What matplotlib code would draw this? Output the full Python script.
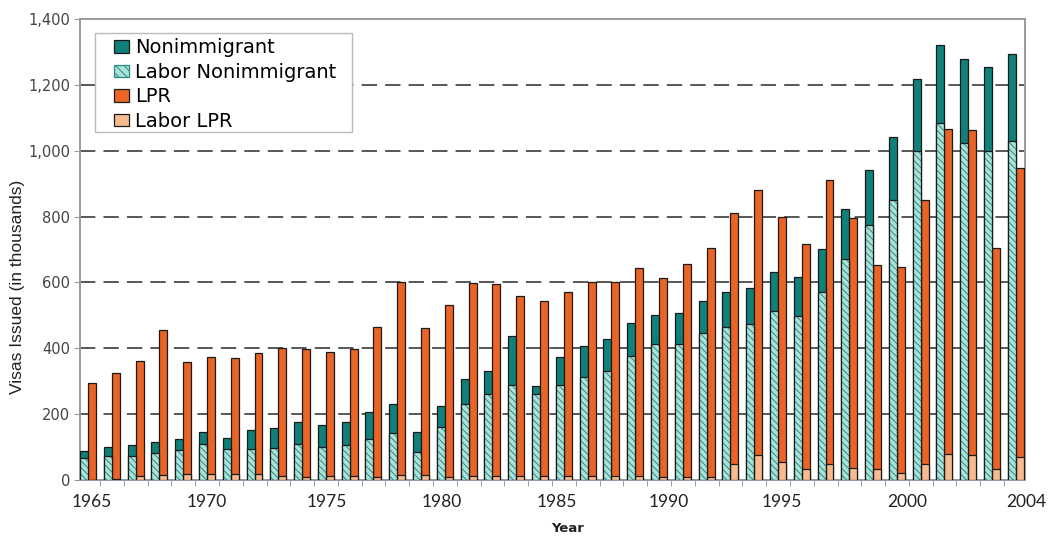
import matplotlib
matplotlib.use("Agg")
import matplotlib.pyplot as plt
from matplotlib.patches import Patch, Rectangle
from matplotlib.transforms import blended_transform_factory

# ---------------- data (thousands of visas) ----------------
years = list(range(1965, 2005))
nonimmigrant = [89, 99, 106, 116, 124, 147, 128, 152, 159, 175,
                167, 175, 205, 231, 147, 226, 306, 331, 438, 285,
                373, 407, 427, 476, 501, 506, 544, 572, 582, 631,
                616, 701, 822, 940, 1041, 1218, 1321, 1280, 1255, 1293]
labor_nonimmigrant = [66, 74, 74, 83, 91, 108, 93, 94, 98, 108,
                      101, 106, 124, 142, 86, 160, 231, 260, 288, 260,
                      288, 312, 332, 377, 413, 413, 445, 465, 474, 514,
                      498, 571, 671, 774, 850, 1000, 1084, 1024, 1000, 1030]
lpr = [296, 325, 362, 455, 358, 373, 370, 386, 400, 397,
       388, 398, 464, 601, 461, 531, 597, 595, 560, 545,
       570, 602, 602, 643, 612, 656, 704, 812, 880, 800,
       716, 911, 796, 653, 647, 850, 1066, 1063, 705, 947]
labor_lpr = [1, 3, 13, 15, 17, 17, 18, 18, 11, 10,
             12, 12, 10, 15, 15, 8, 12, 12, 12, 12,
             12, 12, 12, 12, 10, 10, 8, 48, 76, 56,
             34, 48, 36, 32, 21, 48, 79, 75, 32, 70]
labeled_years = [1965, 1970, 1975, 1980, 1985, 1990, 1995, 2000, 2004]
y_ticks = [0, 200, 400, 600, 800, 1000, 1200, 1400]
legend_labels = ["Nonimmigrant", "Labor Nonimmigrant", "LPR", "Labor LPR"]

# ---------------- style ----------------
TEAL = "#10807b"
HATCH_BG = "#a9e2d8"
HATCH_FG = "#2d8a83"
ORANGE = "#ea6426"
PEACH = "#f7bb8f"
EDGE = "#1a1a1a"
plt.rcParams["hatch.linewidth"] = 0.7

FW, FH = 1051, 537
fig = plt.figure(figsize=(FW / 100, FH / 100), dpi=100)
ax = fig.add_axes([80 / FW, 1 - 480 / FH, 945 / FW, 461 / FH])

W = 0.335
x = list(range(len(years)))
x_orange = [i + W for i in x]

# nonimmigrant total
ax.bar(x, nonimmigrant, width=W, align="edge", color=TEAL, edgecolor=EDGE,
       linewidth=0.9, zorder=3)
# labor nonimmigrant: hatched fill then outline
ax.bar(x, labor_nonimmigrant, width=W, align="edge", facecolor=HATCH_BG,
       edgecolor=HATCH_FG, hatch="\\" * 5, linewidth=0, zorder=4)
ax.bar(x, labor_nonimmigrant, width=W, align="edge", facecolor="none",
       edgecolor=EDGE, linewidth=0.9, zorder=5)
# LPR total
ax.bar(x_orange, lpr, width=W, align="edge", color=ORANGE, edgecolor=EDGE,
       linewidth=0.9, zorder=3)
ax.bar(x_orange, labor_lpr, width=W, align="edge", color=PEACH, edgecolor=EDGE,
       linewidth=0.9, zorder=4)

ax.set_xlim(0, 39.72)
ax.set_ylim(0, 1400)

# gridlines
for v in y_ticks[1:-1]:
    ax.axhline(v, color="#4a4a4a", lw=1.3, linestyle=(0, (8.5, 4.5)), zorder=1)

# spines
for s in ["top", "right", "left"]:
    ax.spines[s].set_color("#9a9a9a")
    ax.spines[s].set_linewidth(1.4)
ax.spines["bottom"].set_color("#8f9aa5")
ax.spines["bottom"].set_linewidth(1.4)

# y axis
ax.set_yticks(y_ticks)
ax.set_yticklabels([f"{v:,}" for v in y_ticks], fontsize=10.5,
                   color="#444444", family="DejaVu Sans")
ax.tick_params(axis="y", length=4, color="#9a9a9a", pad=3)
fig.text(18 / FW, 1 - 287 / FH, "Visas Issued (in thousands)", rotation=90,
         ha="center", va="center", fontsize=12.5, family="Liberation Sans",
         color="#222222")

# x axis: small ticks between year groups, labels as text
ax.set_xticks([i - 0.16 for i in x[1:]])
ax.set_xticklabels([])
ax.tick_params(axis="x", length=4, color="#9aa5b0")
label_pos = [0.5, 5.34, 10.38, 15.21, 20.04, 24.75, 29.49, 34.75, 39.79]
trans = blended_transform_factory(ax.transData, ax.transAxes)
for yr, px in zip(labeled_years, label_pos):
    ax.text(px, -0.03, str(yr), transform=trans, ha="center", va="top",
            fontsize=12.5, family="Lato", color="#222222", clip_on=False)
fig.text(568 / FW, 1 - 528 / FH, "Year", ha="center", va="center",
         fontsize=9.5, fontweight="bold", family="DejaVu Sans", color="#222222")

# legend box (drawn separately so the inner padding can match)
box = Rectangle((95 / FW, 1 - 132 / FH), (352 - 95) / FW, (132 - 33) / FH,
                transform=fig.transFigure, facecolor="white",
                edgecolor="#bbbbbb", linewidth=1.0, zorder=9)
fig.add_artist(box)
handles = [
    Patch(facecolor=TEAL, edgecolor=EDGE, linewidth=0.9),
    Patch(facecolor=HATCH_BG, edgecolor=HATCH_FG, hatch="\\" * 4, linewidth=0.9),
    Patch(facecolor=ORANGE, edgecolor=EDGE, linewidth=0.9),
    Patch(facecolor=PEACH, edgecolor=EDGE, linewidth=0.9),
]
leg = fig.legend(handles, legend_labels, loc="center left",
                 bbox_to_anchor=(114 / FW, 1 - 84.5 / FH),
                 bbox_transform=fig.transFigure, borderaxespad=0,
                 frameon=False, prop={"family": "DejaVu Sans", "size": 14},
                 handlelength=0.75, handleheight=0.6, handletextpad=0.35,
                 labelspacing=0.28, borderpad=0.0)
leg.set_zorder(10)

fig.savefig("out.png", dpi=100)
